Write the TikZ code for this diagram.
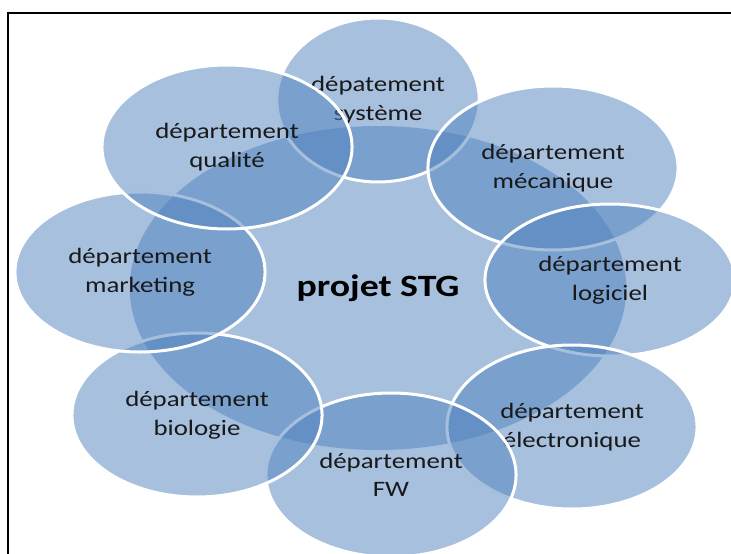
\documentclass[tikz,border=0pt]{standalone}
\usepackage{fontspec}
\setmainfont{Carlito}
\usetikzlibrary{shapes.geometric}

\definecolor{deptblue}{RGB}{79,129,189}
\definecolor{deptink}{RGB}{25,25,25}

\begin{document}
\begin{tikzpicture}[x=1pt, y=-1pt]
    % Styles for circles
    \tikzstyle{hub} = [ellipse, fill=deptblue, fill opacity=0.5, text opacity=1, text=black, inner sep=0pt, xscale=1.22, minimum width=407pt, minimum height=324pt, font=\fontsize{31}{36}\selectfont\bfseries]
    \tikzstyle{dept} = [ellipse, draw=white, line width=3pt, fill=deptblue, fill opacity=0.5, draw opacity=1, text opacity=1, text=deptink, inner sep=0pt, xscale=1.22, minimum width=205pt, minimum height=164pt, align=center, font=\fontsize{22}{28.5}\selectfont]

    \useasboundingbox (0,0) rectangle (731,554);
    \clip (0,0) rectangle (731,554);

  % Centre
    \node[hub] (projet) at (378,288) {projet STG};

  % Departments, clockwise from the top
    \node[dept, minimum width=166pt] (systeme) at (378,100) {dépatement\\système};
    \node[dept] (mecanique) at (553,168) {département\\mécanique};
    \node[dept, minimum height=152pt] (logiciel) at (610,280) {département\\logiciel};
    \node[dept] (electronique) at (572,427) {département\\électronique};
    \node[dept] (fw) at (391,475) {département\\FW};
    \node[dept] (biologie) at (197,415) {département\\biologie};
    \node[dept, minimum height=160pt] (marketing) at (140,272) {département\\marketing};
    \node[dept] (qualite) at (227,147) {département\\qualité};

  % Frame
    \draw[line width=1.5pt] (8,554) -- (8,13) -- (731,13);

\end{tikzpicture}
\end{document}
